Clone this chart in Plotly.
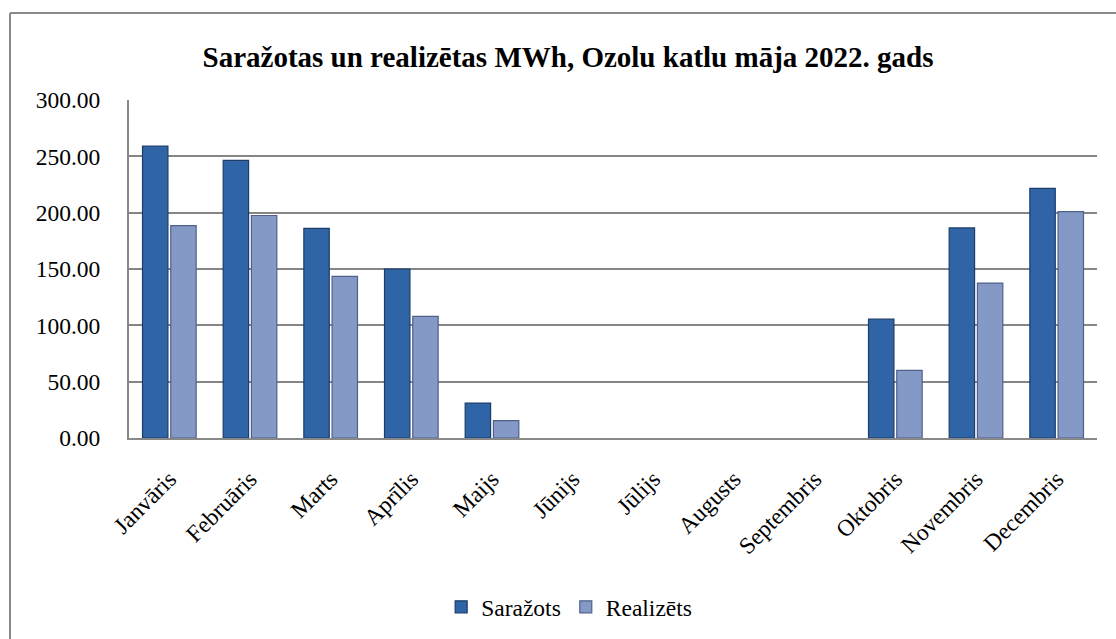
import plotly.graph_objects as go

months = ["Janvāris", "Februāris", "Marts", "Aprīlis", "Maijs", "Jūnijs",
          "Jūlijs", "Augusts", "Septembris", "Oktobris", "Novembris", "Decembris"]
sarazots = [259.0, 246.5, 186.0, 150.0, 31.0, 0, 0, 0, 0, 105.5, 186.5, 221.5]
realizets = [188.5, 197.5, 143.5, 108.0, 15.5, 0, 0, 0, 0, 60.0, 137.5, 201.0]
yticks = [0, 50, 100, 150, 200, 250, 300]

W, H = 1116, 639
font_family = "Liberation Serif"

fig = go.Figure()
fig.add_trace(go.Bar(
    name="Saražots", x=months, y=sarazots,
    marker=dict(color="#2f64a6",
                line=dict(color="#1d3d68", width=[1.2 if v else 0 for v in sarazots])),
))
fig.add_trace(go.Bar(
    name="Realizēts", x=months, y=realizets,
    marker=dict(color="#8499c6",
                line=dict(color="#4f6188", width=[1.2 if v else 0 for v in realizets])),
))

fig.update_layout(
    width=W, height=H,
    paper_bgcolor="white", plot_bgcolor="white",
    margin=dict(l=129, r=19, t=100, b=201, autoexpand=False),
    barmode="group", bargap=0.3, bargroupgap=0.1,
    font=dict(family=font_family, color="black", size=23),
    title=dict(
        text="<b>Saražotas un realizētas MWh, Ozolu katlu māja 2022. gads</b>",
        x=568 / W, xanchor="center", xref="container",
        y=1 - 57 / H, yanchor="middle", yref="container",
        font=dict(family=font_family, size=29, color="black"),
    ),
    showlegend=True,
    legend=dict(
        orientation="h", x=0.51, xanchor="center", xref="container",
        y=(H - 607) / H, yanchor="middle", yref="container",
        font=dict(family=font_family, size=23.5, color="black"),
        itemwidth=30, traceorder="normal",
    ),
    xaxis=dict(
        tickangle=-45, showgrid=False, showline=True, linecolor="#888888",
        linewidth=2, ticks="", ticklabelstandoff=16,
        tickfont=dict(family=font_family, size=23.5),
    ),
    yaxis=dict(
        range=[0, 300], tickvals=yticks, tickformat=".2f",
        showgrid=True, gridcolor="#858585", gridwidth=1.5,
        showline=True, linecolor="#888888", linewidth=2,
        zeroline=False, ticks="", ticklabelstandoff=22,
        tickfont=dict(family=font_family, size=23.5),
    ),
    shapes=[
        dict(type="line", xref="paper", yref="paper",
             x0=-119 / (W - 148), x1=1.2, y0=1 + 87 / (H - 301), y1=1 + 87 / (H - 301),
             line=dict(color="#8a8a8a", width=2)),
        dict(type="line", xref="paper", yref="paper",
             x0=-119 / (W - 148), x1=-119 / (W - 148), y0=1 + 87 / (H - 301), y1=-1.0,
             line=dict(color="#8a8a8a", width=2)),
    ],
)

fig.write_html("out.html", config={"displayModeBar": False},
               post_script="document.body.style.margin='0px';")
